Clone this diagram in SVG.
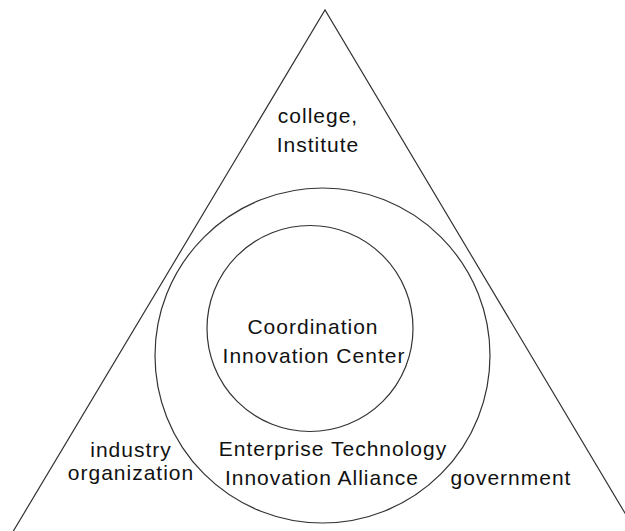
<svg xmlns="http://www.w3.org/2000/svg" width="625" height="531" viewBox="0 0 625 531">
<style>
.ln{fill:none;stroke:#333;stroke-width:1.2}
.t{font-family:"Liberation Sans",Arial,sans-serif;font-size:21px;fill:#111;text-anchor:middle;letter-spacing:1px}
</style>
<rect width="625" height="531" fill="#fff"/>
<g id="connectors">
<polyline id="triangle" class="ln" points="8,540 325,10 641,540"/>
</g>
<g id="alliance">
<circle class="ln" cx="322.5" cy="355.5" r="167.5"/>
<text class="t" x="333" y="456">Enterprise Technology</text>
<text class="t" x="322" y="485">Innovation Alliance</text>
</g>
<g id="center">
<circle class="ln" cx="310" cy="328.5" r="103"/>
<text class="t" x="313" y="334">Coordination</text>
<text class="t" x="314" y="363">Innovation Center</text>
</g>
<g id="college">
<text class="t" x="318" y="123">college,</text>
<text class="t" x="318" y="152">Institute</text>
</g>
<g id="industry">
<text class="t" x="131" y="457">industry</text>
<text class="t" x="131" y="480">organization</text>
</g>
<g id="government">
<text class="t" x="511" y="485">government</text>
</g>
</svg>
